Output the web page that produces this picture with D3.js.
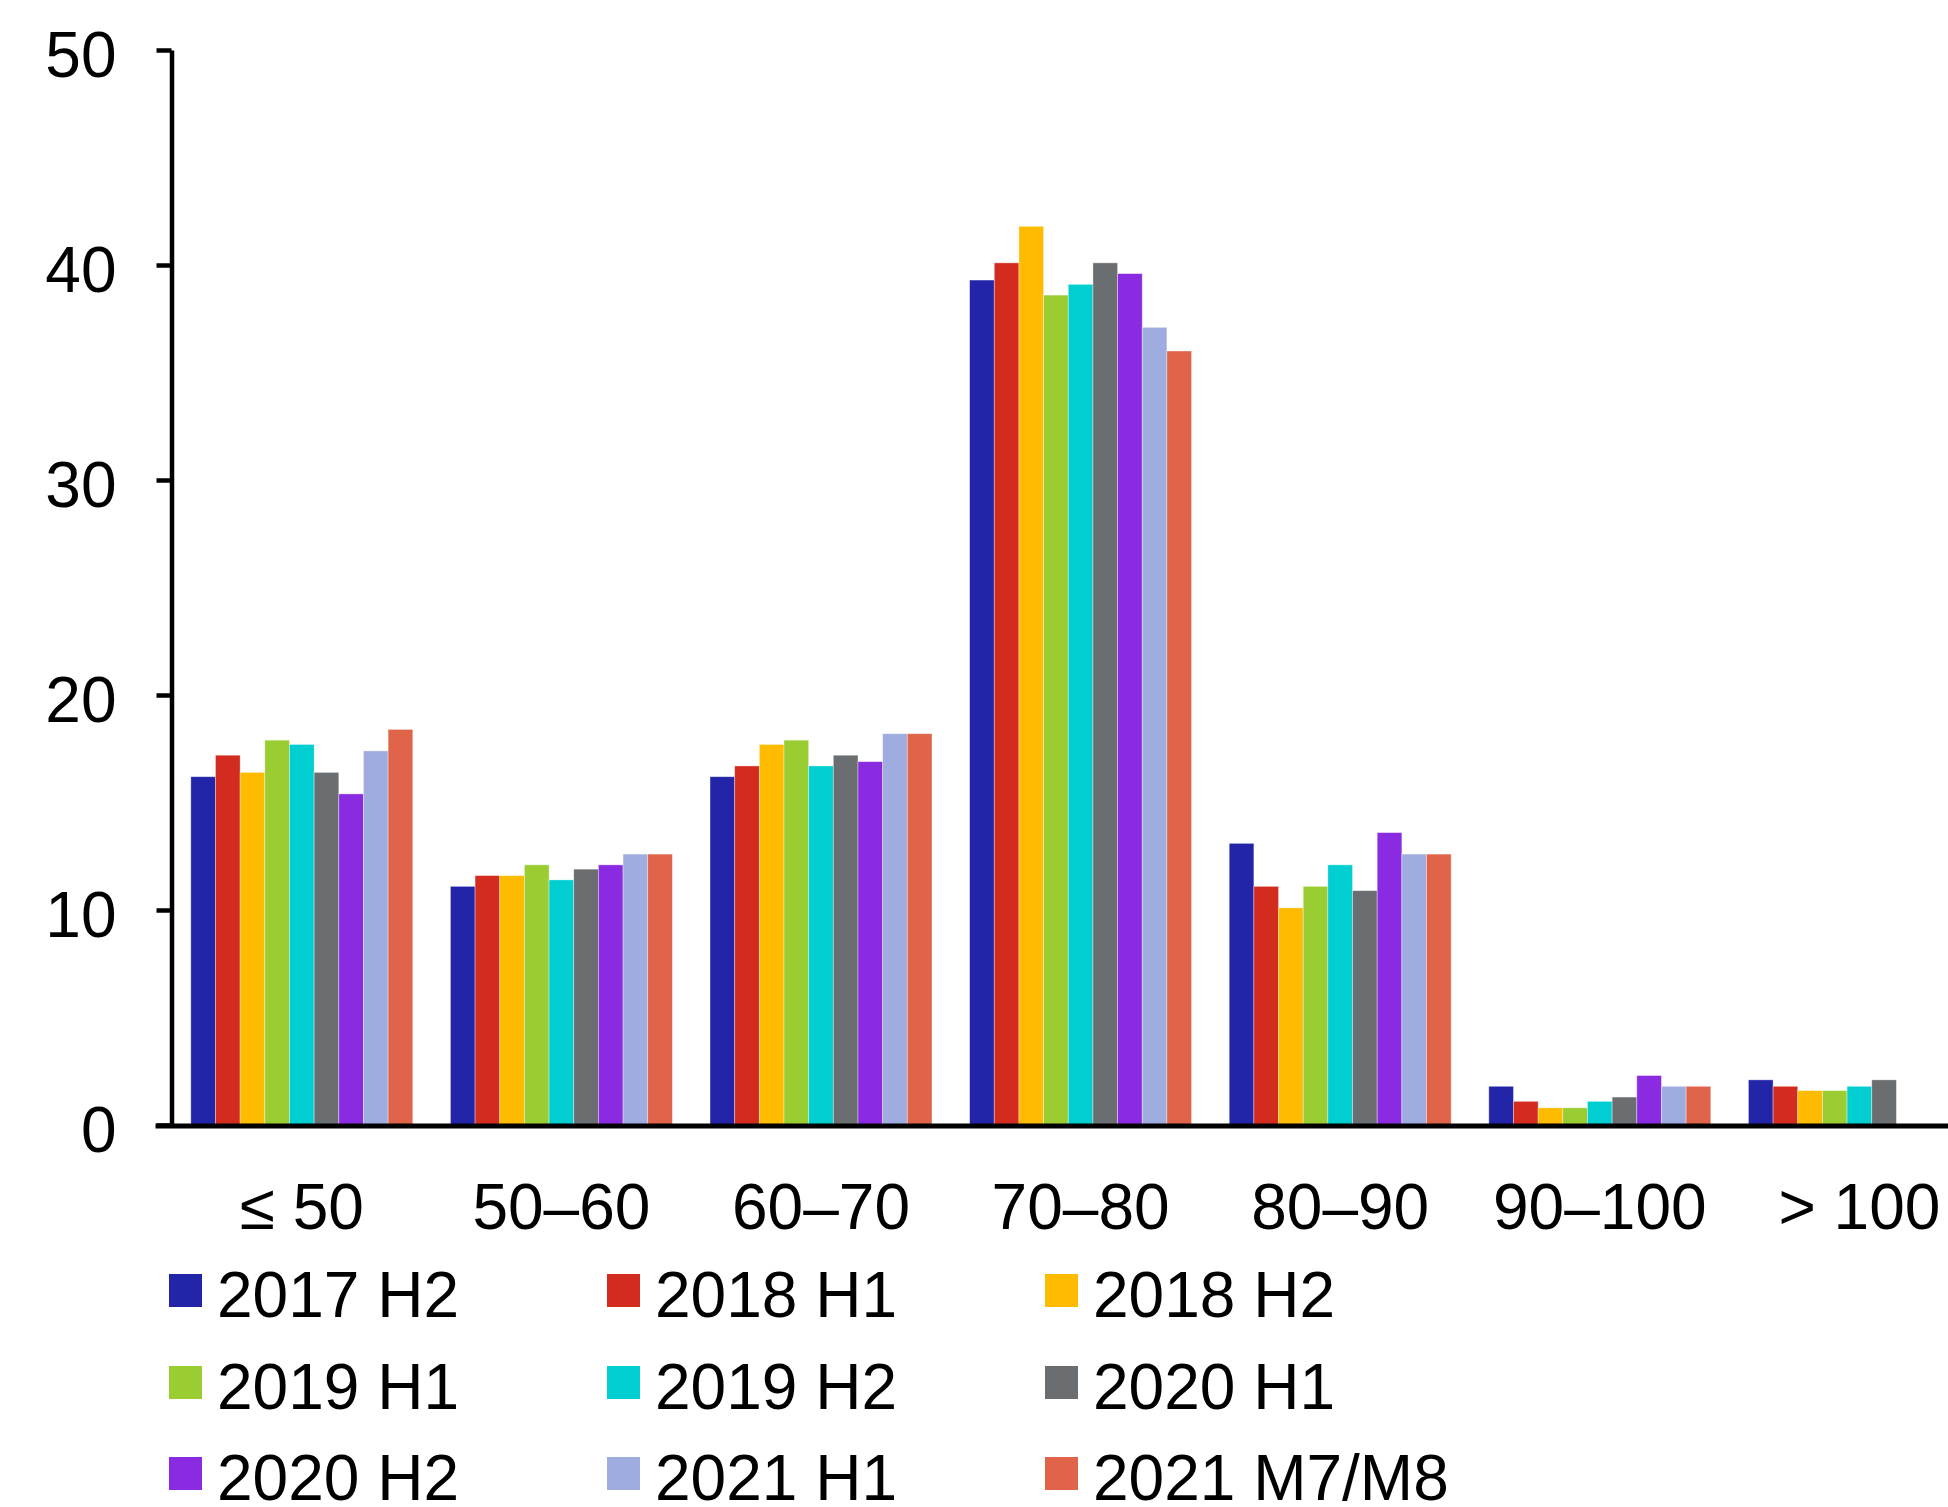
<!DOCTYPE html>
<html>
<head>
<meta charset="utf-8">
<script src="https://cdn.jsdelivr.net/npm/d3@7"></script>
<style>
  html, body { margin: 0; padding: 0; background: #fff; }
  svg { display: block; font-family: "Liberation Sans", Arial, sans-serif; }
</style>
</head>
<body>
<svg id="chart" width="1948" height="1507"></svg>
<script>
// Price bands (categories on the x axis)
const categories = ["≤ 50", "50–60", "60–70", "70–80", "80–90", "90–100", "> 100"];

// Periods (one bar per period in each band)
const periods = ["2017 H2", "2018 H1", "2018 H2", "2019 H1", "2019 H2", "2020 H1", "2020 H2", "2021 H1", "2021 M7/M8"];

// Share per period, listed band by band
const s2017H2 = [16.2, 11.1, 16.2, 39.3, 13.1, 1.8, 2.1];
const s2018H1 = [17.2, 11.6, 16.7, 40.1, 11.1, 1.1, 1.8];
const s2018H2 = [16.4, 11.6, 17.7, 41.8, 10.1, 0.8, 1.6];
const s2019H1 = [17.9, 12.1, 17.9, 38.6, 11.1, 0.8, 1.6];
const s2019H2 = [17.7, 11.4, 16.7, 39.1, 12.1, 1.1, 1.8];
const s2020H1 = [16.4, 11.9, 17.2, 40.1, 10.9, 1.3, 2.1];
const s2020H2 = [15.4, 12.1, 16.9, 39.6, 13.6, 2.3, null];
const s2021H1 = [17.4, 12.6, 18.2, 37.1, 12.6, 1.8, null];
const s2021M78 = [18.4, 12.6, 18.2, 36.0, 12.6, 1.8, null];

const seriesValues = [s2017H2, s2018H1, s2018H2, s2019H1, s2019H2, s2020H1, s2020H2, s2021H1, s2021M78];

const colors = ["#2325a8", "#d42b1f", "#ffbb00", "#9acd32", "#00ced1", "#6b6e70", "#8a2be2", "#9facdf", "#e0644a"];

const yTicks = [0, 10, 20, 30, 40, 50];

const svg = d3.select("#chart");

const axisX = 171.5;
const baseY = 1125;
const topY = 50;

const x = d3.scaleBand()
  .domain(categories)
  .range([axisX + 0.5, axisX + 0.5 + 7 * 259.6])
  .paddingInner(0.145)
  .paddingOuter(0.0725);

const xInner = d3.scaleBand()
  .domain(periods)
  .range([0, x.bandwidth()])
  .padding(0);

const y = d3.scaleLinear().domain([0, 50]).range([baseY, topY]);

// Bars
const rows = [];
categories.forEach((c, ci) => {
  periods.forEach((p, pi) => {
    const v = seriesValues[pi][ci];
    if (v != null) rows.push({ c, p, v, color: colors[pi] });
  });
});

svg.append("g")
  .selectAll("rect")
  .data(rows)
  .join("rect")
  .attr("x", d => x(d.c) + xInner(d.p))
  .attr("y", d => y(d.v))
  .attr("width", xInner.bandwidth())
  .attr("height", d => baseY - y(d.v))
  .attr("fill", d => d.color)
  .attr("stroke", "#ffffff")
  .attr("stroke-opacity", 0.45)
  .attr("stroke-width", 0.8);

// Y axis
const yAxis = svg.append("g")
  .attr("transform", `translate(${axisX},0)`)
  .call(d3.axisLeft(y).tickValues(yTicks).tickSize(15).tickSizeOuter(0).tickPadding(40).tickFormat(d3.format("d")));
yAxis.select(".domain").attr("stroke", "#000").attr("stroke-width", 4.5);
yAxis.selectAll(".tick line").attr("stroke", "#000").attr("stroke-width", 4.5);
yAxis.selectAll(".tick text")
  .attr("fill", "#000")
  .attr("font-size", 64)
  .attr("font-family", "'Liberation Sans', Arial, sans-serif")
  .attr("dy", "0.42em");

// X axis
const xAxis = svg.append("g")
  .attr("transform", `translate(0,${baseY + 1})`)
  .call(d3.axisBottom(x).tickSize(0).tickSizeOuter(0));
xAxis.select(".domain").remove();
xAxis.append("line")
  .attr("x1", axisX - 16).attr("x2", 1948)
  .attr("y1", 0).attr("y2", 0)
  .attr("stroke", "#000").attr("stroke-width", 5);
xAxis.selectAll(".tick text")
  .attr("fill", "#000")
  .attr("font-size", 64)
  .attr("font-family", "'Liberation Sans', Arial, sans-serif")
  .attr("y", 103)
  .attr("dy", 0);

// Legend: three columns, three rows
const legend = svg.append("g");
const colX = [169, 607, 1045];
const rowY = [1317, 1409, 1500];
periods.forEach((p, i) => {
  const cx = colX[i % 3];
  const ry = rowY[Math.floor(i / 3)];
  const g = legend.append("g");
  g.append("rect")
    .attr("x", cx).attr("y", ry - 43)
    .attr("width", 33).attr("height", 33)
    .attr("fill", colors[i]);
  g.append("text")
    .attr("x", cx + 48).attr("y", ry)
    .attr("font-size", 64)
    .attr("fill", "#000")
    .text(p);
});
</script>
</body>
</html>
